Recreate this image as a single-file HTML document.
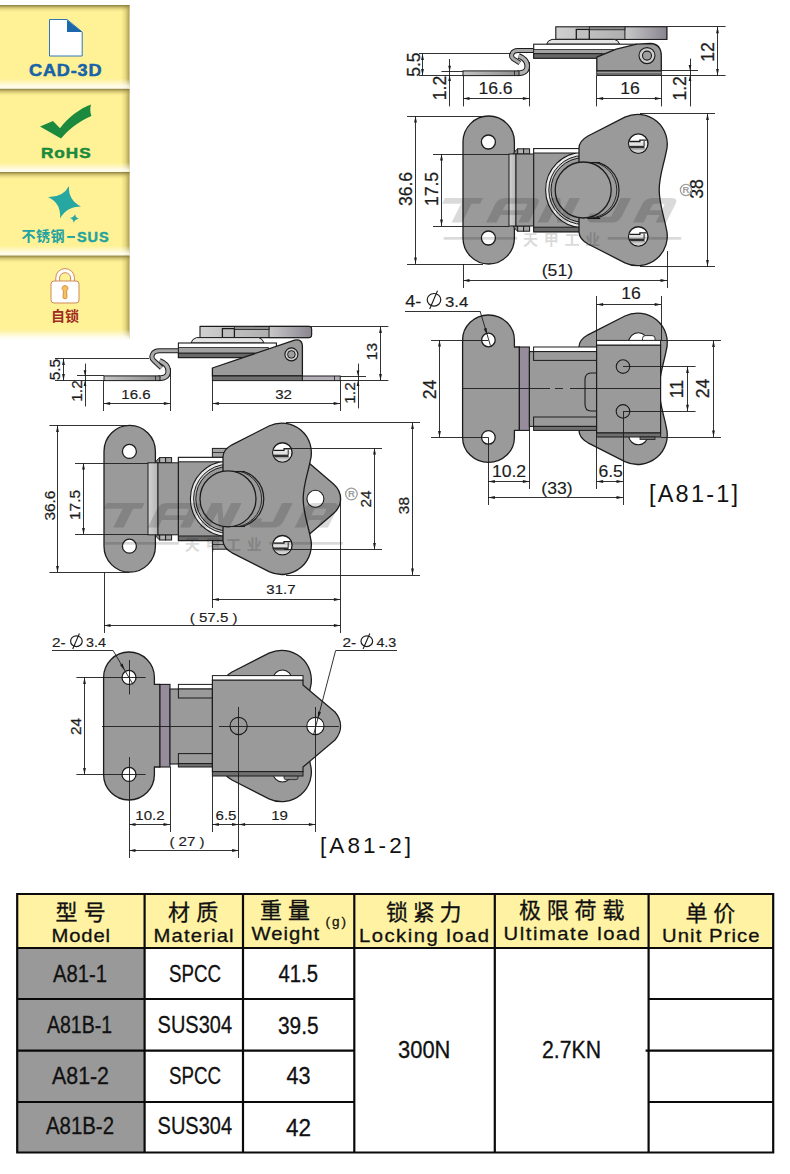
<!DOCTYPE html>
<html><head><meta charset="utf-8"><title>A81</title>
<style>html,body{margin:0;padding:0;background:#fff}svg{display:block}text{font-family:"Liberation Sans",sans-serif}</style>
</head><body>
<svg width="790" height="1174" viewBox="0 0 790 1174" font-family="Liberation Sans, sans-serif">
<rect width="790" height="1174" fill="#fff"/>
<defs>
<linearGradient id="bt" x1="0" y1="0" x2="0" y2="1"><stop offset="0" stop-color="#7a7034" stop-opacity=".9"/><stop offset=".3" stop-color="#9c8f48" stop-opacity=".6"/><stop offset=".65" stop-color="#b8a858" stop-opacity=".25"/><stop offset="1" stop-color="#c8b860" stop-opacity="0"/></linearGradient>
<linearGradient id="br" x1="0" y1="0" x2="1" y2="0"><stop offset="0" stop-color="#b8a850" stop-opacity="0"/><stop offset=".5" stop-color="#b0a050" stop-opacity=".3"/><stop offset="1" stop-color="#8e8240" stop-opacity=".8"/></linearGradient>
<linearGradient id="bb" x1="0" y1="0" x2="0" y2="1"><stop offset="0" stop-color="#fff" stop-opacity="0"/><stop offset=".6" stop-color="#fff" stop-opacity=".55"/><stop offset="1" stop-color="#fff" stop-opacity=".97"/></linearGradient>
<linearGradient id="gl" x1="0" y1="0" x2="1" y2="0"><stop offset="0" stop-color="#d4d4d4"/><stop offset="1" stop-color="#b4b4b4"/></linearGradient>
<linearGradient id="gh" x1="0" y1="0" x2="1" y2="0"><stop offset="0" stop-color="#d0d0d0"/><stop offset="1" stop-color="#9a9a9a"/></linearGradient>
<linearGradient id="gh2" x1="0" y1="0" x2="1" y2="0"><stop offset="0" stop-color="#c8c8c8"/><stop offset="1" stop-color="#8a8590"/></linearGradient>
<linearGradient id="gp" x1="0" y1="0" x2="1" y2="0"><stop offset="0" stop-color="#c4c4c4"/><stop offset="1" stop-color="#8e8e8e"/></linearGradient>
</defs>
<rect x="0" y="5" width="129.5" height="82.6" fill="#fff196"/>
<rect x="121.0" y="5" width="8.5" height="82.6" fill="url(#br)"/>
<rect x="0" y="78.6" width="129.5" height="9" fill="url(#bb)"/>
<rect x="0" y="5" width="129.5" height="7" fill="url(#bt)"/>
<rect x="0" y="88.8" width="129.5" height="82.6" fill="#fff196"/>
<rect x="121.0" y="88.8" width="8.5" height="82.6" fill="url(#br)"/>
<rect x="0" y="162.39999999999998" width="129.5" height="9" fill="url(#bb)"/>
<rect x="0" y="88.8" width="129.5" height="7" fill="url(#bt)"/>
<rect x="0" y="172" width="129.5" height="82.6" fill="#fff196"/>
<rect x="121.0" y="172" width="8.5" height="82.6" fill="url(#br)"/>
<rect x="0" y="245.6" width="129.5" height="9" fill="url(#bb)"/>
<rect x="0" y="172" width="129.5" height="7" fill="url(#bt)"/>
<rect x="0" y="255.6" width="129.5" height="82.6" fill="#fff196"/>
<rect x="121.0" y="255.6" width="8.5" height="82.6" fill="url(#br)"/>
<rect x="0" y="329.2" width="129.5" height="9" fill="url(#bb)"/>
<rect x="0" y="255.6" width="129.5" height="7" fill="url(#bt)"/>
<path d="M49.5 19.5H67L82.2 32V56H49.5Z" fill="#fff" stroke="#2f78b8" stroke-width="1"/>
<path d="M67 20L82.2 32H67Z" fill="#1b68ac"/>
<text transform="translate(29 76) scale(1.13 1)" font-size="16" font-weight="bold" fill="#1763a8" stroke="#1763a8" stroke-width=".5" textLength="64.2" lengthAdjust="spacing">CAD-3D</text>
<path d="M40 126.4L53 121L60 128.2C68 117 80 108.5 91 104.4C90 108 90 112 91.4 116C78 122 68 130 61 138.6Z" fill="#1b8a3e"/>
<text transform="translate(41 158.2) scale(1.13 1)" font-size="15.2" font-weight="bold" fill="#1b8a3e" stroke="#1b8a3e" stroke-width=".5" textLength="43.9" lengthAdjust="spacing">RoHS</text>
<path d="M69 186Q68 200 81 206.4Q66.5 206.5 60 218.4Q61.5 203.5 48 197Q63 197.5 69 186Z" fill="#27a7a1"/>
<path d="M75.2 214Q75.2 217.6 78.9 218.8Q75 219.3 73.6 222.8Q73.6 219.2 69.9 218Q73.8 217.5 75.2 214Z" fill="#27a7a1"/>
<text x="21.5" y="241.3" font-size="14" font-weight="bold" fill="#22a39f" textLength="43" lengthAdjust="spacing" style="font-family:'Liberation Sans','Noto Sans CJK SC',sans-serif">不锈钢</text>
<rect x="67.2" y="236" width="7.8" height="1.9" fill="#22a39f"/>
<text x="77" y="241.8" font-size="14.5" font-weight="bold" fill="#22a39f" stroke="#22a39f" stroke-width=".4" textLength="31.6" lengthAdjust="spacing">SUS</text>
<path d="M55.8 282V277.6A9.3 9 0 0 1 74.4 277.6V282" fill="#fff" stroke="#cf8a5a" stroke-width="1"/>
<path d="M59.6 282V278A5.5 5.3 0 0 1 70.6 278V282" fill="#fff196" stroke="#cf8a5a" stroke-width="1"/>
<rect x="51" y="281" width="28" height="22" rx="3" fill="#fff" stroke="#cf8a5a" stroke-width="1"/>
<path d="M65 285.6A2.8 2.8 0 0 1 66.6 290.8L67 297.2A2 1.6 0 0 1 63 297.2L63.4 290.8A2.8 2.8 0 0 1 65 285.6Z" fill="#f6c15a" stroke="#cc7c3c" stroke-width=".8"/>
<text x="51" y="320.6" font-size="14" font-weight="bold" fill="#a02c22" textLength="28" lengthAdjust="spacing" style="font-family:'Liberation Sans','Noto Sans CJK SC',sans-serif">自锁</text>
<rect x="17.2" y="894" width="756.0" height="54" fill="#fff3a3"/>
<rect x="17.2" y="948" width="127.39999999999999" height="204.5" fill="#999999"/>
<path d="M17.2 894H773.2V1152.5H17.2ZM144.6 894V1152.5M243 894V1152.5M354.3 894V1152.5M494.8 894V1152.5M648.6 894V1152.5M17.2 948H773.2M17.2 999H354.3M648.6 999H773.2M17.2 1050.6H354.3M648.6 1050.6H773.2M17.2 1102H354.3M648.6 1102H773.2M645.6 1050.6H648.6" fill="none" stroke="#0a0a0a" stroke-width="2.2"/>
<text x="55.5" y="919.5" font-size="22" fill="#111" stroke="#111" stroke-width="0.3" letter-spacing="6.2" style="font-family:'Liberation Sans','Noto Sans CJK SC',sans-serif">型号</text>
<text x="168" y="919.5" font-size="22" fill="#111" stroke="#111" stroke-width="0.3" letter-spacing="6.2" style="font-family:'Liberation Sans','Noto Sans CJK SC',sans-serif">材质</text>
<text x="260" y="917.5" font-size="22" fill="#111" stroke="#111" stroke-width="0.3" letter-spacing="6" style="font-family:'Liberation Sans','Noto Sans CJK SC',sans-serif">重量</text>
<text x="386" y="919.5" font-size="22" fill="#111" stroke="#111" stroke-width="0.3" letter-spacing="4.7" style="font-family:'Liberation Sans','Noto Sans CJK SC',sans-serif">锁紧力</text>
<text x="519" y="918" font-size="22" fill="#111" stroke="#111" stroke-width="0.3" letter-spacing="5.8" style="font-family:'Liberation Sans','Noto Sans CJK SC',sans-serif">极限荷载</text>
<text x="685.5" y="920.5" font-size="22" fill="#111" stroke="#111" stroke-width="0.3" letter-spacing="5.8" style="font-family:'Liberation Sans','Noto Sans CJK SC',sans-serif">单价</text>
<text transform="translate(51.6 942.4) scale(1.1 1)" font-size="18.4" fill="#111" stroke="#111" stroke-width="0.3" font-weight="normal" textLength="53.1" lengthAdjust="spacing">Model</text>
<text transform="translate(153.6 942.4) scale(1.1 1)" font-size="18.4" fill="#111" stroke="#111" stroke-width="0.3" font-weight="normal" textLength="72.7" lengthAdjust="spacing">Material</text>
<text transform="translate(251.6 940) scale(1.1 1)" font-size="18.4" fill="#111" stroke="#111" stroke-width="0.3" font-weight="normal" textLength="61.3" lengthAdjust="spacing">Weight</text>
<text transform="translate(325.6 926.4) scale(1.0 1)" font-size="13.5" fill="#111" stroke="#111" stroke-width="0.3" font-weight="normal" textLength="20.4" lengthAdjust="spacing">(g)</text>
<text transform="translate(359 942) scale(1.1 1)" font-size="18.4" fill="#111" stroke="#111" stroke-width="0.3" font-weight="normal" textLength="118.2" lengthAdjust="spacing">Locking load</text>
<text transform="translate(503.6 940.4) scale(1.1 1)" font-size="18.4" fill="#111" stroke="#111" stroke-width="0.3" font-weight="normal" textLength="124.0" lengthAdjust="spacing">Ultimate load</text>
<text transform="translate(662 942.4) scale(1.1 1)" font-size="18.4" fill="#111" stroke="#111" stroke-width="0.3" font-weight="normal" textLength="88.7" lengthAdjust="spacing">Unit Price</text>
<text transform="translate(53 982) scale(1.0 1)" font-size="23.2" fill="#111" stroke="#111" stroke-width="0.3" font-weight="normal" textLength="54.0" lengthAdjust="spacingAndGlyphs">A81-1</text>
<text transform="translate(47 1033) scale(1.0 1)" font-size="23.2" fill="#111" stroke="#111" stroke-width="0.3" font-weight="normal" textLength="65.0" lengthAdjust="spacingAndGlyphs">A81B-1</text>
<text transform="translate(52 1083.6) scale(1.0 1)" font-size="23.2" fill="#111" stroke="#111" stroke-width="0.3" font-weight="normal" textLength="57.0" lengthAdjust="spacingAndGlyphs">A81-2</text>
<text transform="translate(46 1134.4) scale(1.0 1)" font-size="23.2" fill="#111" stroke="#111" stroke-width="0.3" font-weight="normal" textLength="68.0" lengthAdjust="spacingAndGlyphs">A81B-2</text>
<text transform="translate(169 981.8) scale(1.0 1)" font-size="23.2" fill="#111" stroke="#111" stroke-width="0.3" font-weight="normal" textLength="52.0" lengthAdjust="spacingAndGlyphs">SPCC</text>
<text transform="translate(157.6 1032.6) scale(1.0 1)" font-size="23.2" fill="#111" stroke="#111" stroke-width="0.3" font-weight="normal" textLength="74.4" lengthAdjust="spacingAndGlyphs">SUS304</text>
<text transform="translate(169 1083.6) scale(1.0 1)" font-size="23.2" fill="#111" stroke="#111" stroke-width="0.3" font-weight="normal" textLength="52.0" lengthAdjust="spacingAndGlyphs">SPCC</text>
<text transform="translate(157.6 1134.4) scale(1.0 1)" font-size="23.2" fill="#111" stroke="#111" stroke-width="0.3" font-weight="normal" textLength="74.4" lengthAdjust="spacingAndGlyphs">SUS304</text>
<text transform="translate(278.6 982) scale(1.0 1)" font-size="23.2" fill="#111" stroke="#111" stroke-width="0.3" font-weight="normal" textLength="39.4" lengthAdjust="spacingAndGlyphs">41.5</text>
<text transform="translate(278 1033.6) scale(1.0 1)" font-size="23.2" fill="#111" stroke="#111" stroke-width="0.3" font-weight="normal" textLength="40.6" lengthAdjust="spacingAndGlyphs">39.5</text>
<text transform="translate(286.4 1084.4) scale(1.0 1)" font-size="23.2" fill="#111" stroke="#111" stroke-width="0.3" font-weight="normal" textLength="24.0" lengthAdjust="spacingAndGlyphs">43</text>
<text transform="translate(286 1136) scale(1.0 1)" font-size="23.2" fill="#111" stroke="#111" stroke-width="0.3" font-weight="normal" textLength="25.0" lengthAdjust="spacingAndGlyphs">42</text>
<text transform="translate(398 1058.4) scale(1.0 1)" font-size="23.2" fill="#111" stroke="#111" stroke-width="0.3" font-weight="normal" textLength="52.4" lengthAdjust="spacingAndGlyphs">300N</text>
<text transform="translate(542 1058.4) scale(1.0 1)" font-size="23.2" fill="#111" stroke="#111" stroke-width="0.3" font-weight="normal" textLength="59.0" lengthAdjust="spacingAndGlyphs">2.7KN</text>
<g id="g1side">
<path d="M517 73.3C525.2 73.3 527.6 70.2 527.2 65.2C526.8 60.6 524.4 58 518.6 55.8" fill="none" stroke="#1c1c1c" stroke-width="5.6" stroke-linecap="butt"/>
<path d="M517 73.3C525.2 73.3 527.6 70.2 527.2 65.2C526.8 60.6 524.4 58 518.6 55.8" fill="none" stroke="#b0b0b0" stroke-width="3.5" stroke-linecap="butt"/>
<rect x="463.0" y="70.9" width="56.0" height="4.7" rx="0" fill="url(#gp)" stroke="#1c1c1c" stroke-width="1.0"/>
<path d="M514.5 70.9L514.5 75.6" stroke="#1c1c1c" stroke-width="0.8" fill="none" />
<path d="M534 50.6H518C511.6 50.6 510 56.2 513.2 58.8L519.8 63" fill="none" stroke="#1c1c1c" stroke-width="5.0" stroke-linecap="butt"/>
<path d="M534 50.6H518C511.6 50.6 510 56.2 513.2 58.8L519.8 63" fill="none" stroke="#a8a8a8" stroke-width="3.0" stroke-linecap="butt"/>
<rect x="555.8" y="26.8" width="111.0" height="12.6" rx="0" fill="url(#gh)" stroke="#1c1c1c" stroke-width="1.1"/>
<rect x="624.9" y="26.8" width="41.9" height="12.6" rx="0" fill="url(#gh2)" stroke="#1c1c1c" stroke-width="1.0"/>
<rect x="576.3" y="29.4" width="13.0" height="10.0" rx="0" fill="#c0c0c0" stroke="#1c1c1c" stroke-width="1.3"/>
<rect x="589.3" y="26.8" width="35.6" height="3.0" rx="0" fill="#8e8e8e" stroke="#1c1c1c" stroke-width="0.8"/>
<path d="M546.7 44.2Q547.6 40.2 552 39.4H614.4Q618.6 40.2 619.6 44.2Z" fill="#e4e4e4" stroke="#1c1c1c" stroke-width="1.0" stroke-linejoin="round" />
<rect x="533.7" y="44.2" width="103.0" height="14.0" rx="0" fill="#fff" stroke="#1c1c1c" stroke-width="1.1"/>
<rect x="533.7" y="49.6" width="80.0" height="4.1" rx="0" fill="#a2a2a2" stroke="#1c1c1c" stroke-width="0.8"/>
<rect x="533.7" y="53.7" width="68.0" height="4.5" rx="0" fill="#686868" stroke="#1c1c1c" stroke-width="1.0"/>
<path d="M596.8 70.8V57.2L616.2 49.2L636.7 44.2L650.4 43.5Q661.3 44 661.3 56V70.8Z" fill="#9a9a9a" stroke="#1c1c1c" stroke-width="1.3" stroke-linejoin="round" />
<circle cx="647.0" cy="55.6" r="8.0" fill="#cdcdcd" stroke="#1c1c1c" stroke-width="1.1"/>
<circle cx="647.0" cy="55.6" r="4.5" fill="#9e9e9e" stroke="#1c1c1c" stroke-width="1.1"/>
<rect x="596.8" y="70.8" width="64.5" height="4.6" rx="0" fill="#707070" stroke="#1c1c1c" stroke-width="1.0"/>
<path d="M597.0 72.5L661.0 72.5" stroke="#b8b8b8" stroke-width="0.6" fill="none" />
</g>
<path d="M419.0 53.5L511.0 53.5" stroke="#1c1c1c" stroke-width="0.9" fill="none" />
<path d="M419.0 75.5L463.0 75.5" stroke="#1c1c1c" stroke-width="0.9" fill="none" />
<path d="M422.5 53.6L422.5 75.6" stroke="#1c1c1c" stroke-width="0.9" fill="none" />
<path d="M422.5 53.6L423.9 60.1L421.1 60.1Z" fill="#1c1c1c"/>
<path d="M422.5 75.6L421.1 69.1L423.9 69.1Z" fill="#1c1c1c"/>
<text transform="translate(420.0 64.6) rotate(-90) scale(1.0 1.08)" font-size="17.6" text-anchor="middle" fill="#1c1c1c" stroke="#1c1c1c" stroke-width=".25">5.5</text>
<path d="M441.4 71.5L463.0 71.5" stroke="#1c1c1c" stroke-width="0.9" fill="none" />
<path d="M449.5 59.0L449.5 106.4" stroke="#1c1c1c" stroke-width="0.9" fill="none" />
<path d="M449.6 71.2L448.2 65.7L451.0 65.7Z" fill="#1c1c1c"/>
<path d="M449.6 75.6L451.0 81.1L448.2 81.1Z" fill="#1c1c1c"/>
<text transform="translate(446.0 88.0) rotate(-90) scale(1.0 1.08)" font-size="17.6" text-anchor="middle" fill="#1c1c1c" stroke="#1c1c1c" stroke-width=".25">1.2</text>
<path d="M463.5 76.0L463.5 106.4" stroke="#1c1c1c" stroke-width="0.9" fill="none" />
<path d="M529.5 62.0L529.5 106.4" stroke="#1c1c1c" stroke-width="0.9" fill="none" />
<path d="M463.0 98.5L529.4 98.5" stroke="#1c1c1c" stroke-width="0.9" fill="none" />
<path d="M463.0 98.5L469.5 97.1L469.5 99.9Z" fill="#1c1c1c"/>
<path d="M529.4 98.5L522.9 99.9L522.9 97.1Z" fill="#1c1c1c"/>
<text transform="translate(495.5 94.0) scale(1.1 1)" font-size="16" text-anchor="middle" fill="#1c1c1c" stroke="#1c1c1c" stroke-width=".15" font-weight="normal" letter-spacing="0">16.6</text>
<path d="M596.5 75.6L596.5 106.4" stroke="#1c1c1c" stroke-width="0.9" fill="none" />
<path d="M661.5 75.6L661.5 106.4" stroke="#1c1c1c" stroke-width="0.9" fill="none" />
<path d="M596.6 98.5L661.4 98.5" stroke="#1c1c1c" stroke-width="0.9" fill="none" />
<path d="M596.6 98.5L603.1 97.1L603.1 99.9Z" fill="#1c1c1c"/>
<path d="M661.4 98.5L654.9 99.9L654.9 97.1Z" fill="#1c1c1c"/>
<text transform="translate(630.0 93.8) scale(1.1 1)" font-size="16" text-anchor="middle" fill="#1c1c1c" stroke="#1c1c1c" stroke-width=".15" font-weight="normal" letter-spacing="0">16</text>
<path d="M661.3 70.5L698.0 70.5" stroke="#1c1c1c" stroke-width="0.9" fill="none" />
<path d="M661.3 75.5L725.6 75.5" stroke="#1c1c1c" stroke-width="0.9" fill="none" />
<path d="M690.5 58.6L690.5 106.4" stroke="#1c1c1c" stroke-width="0.9" fill="none" />
<path d="M690.0 70.6L688.6 65.1L691.4 65.1Z" fill="#1c1c1c"/>
<path d="M690.0 75.5L691.4 81.0L688.6 81.0Z" fill="#1c1c1c"/>
<text transform="translate(686.0 88.4) rotate(-90) scale(1.0 1.08)" font-size="17.6" text-anchor="middle" fill="#1c1c1c" stroke="#1c1c1c" stroke-width=".25">1.2</text>
<path d="M667.0 26.5L725.6 26.5" stroke="#1c1c1c" stroke-width="0.9" fill="none" />
<path d="M717.5 26.8L717.5 75.5" stroke="#1c1c1c" stroke-width="0.9" fill="none" />
<path d="M717.5 26.8L718.9 33.3L716.1 33.3Z" fill="#1c1c1c"/>
<path d="M717.5 75.5L716.1 69.0L718.9 69.0Z" fill="#1c1c1c"/>
<text transform="translate(714.0 52.0) rotate(-90) scale(1.0 1.08)" font-size="17.6" text-anchor="middle" fill="#1c1c1c" stroke="#1c1c1c" stroke-width=".25">12</text>
<g id="g1front">
<path d="M463 142A25.7 26 0 0 1 514.4 142V238A25.7 26 0 0 1 463 238Z" fill="#9a9a9a" stroke="#1c1c1c" stroke-width="1.3" stroke-linejoin="round" />
<circle cx="488.4" cy="142.0" r="7.0" fill="#fff" stroke="#1c1c1c" stroke-width="1.3"/>
<circle cx="488.4" cy="238.0" r="7.0" fill="#fff" stroke="#1c1c1c" stroke-width="1.3"/>
<rect x="517.6" y="148.8" width="6.0" height="5.2" rx="0" fill="#b4b4b4" stroke="#1c1c1c" stroke-width="1.0"/>
<rect x="523.6" y="148.8" width="6.0" height="5.2" rx="0" fill="#a4a4a4" stroke="#1c1c1c" stroke-width="1.0"/>
<path d="M517.6 154.0l-4.6 0Q514.6 151.20000000000002 517.6 148.8Z" fill="#8a8a8a" stroke="#1c1c1c" stroke-width="0.9" stroke-linejoin="round" />
<rect x="517.6" y="226.0" width="6.0" height="5.2" rx="0" fill="#b4b4b4" stroke="#1c1c1c" stroke-width="1.0"/>
<rect x="523.6" y="226.0" width="6.0" height="5.2" rx="0" fill="#a4a4a4" stroke="#1c1c1c" stroke-width="1.0"/>
<path d="M517.6 226l-4.6 0Q514.6 228.8 517.6 231.2Z" fill="#8a8a8a" stroke="#1c1c1c" stroke-width="0.9" stroke-linejoin="round" />
<rect x="509.0" y="154.0" width="7.0" height="72.0" rx="0" fill="url(#gl)" stroke="#1c1c1c" stroke-width="1.0"/>
<rect x="516.0" y="154.0" width="17.7" height="72.0" rx="0" fill="#9a9a9a" stroke="#1c1c1c" stroke-width="1.0"/>
<rect x="533.7" y="148.6" width="48.3" height="83.2" rx="0" fill="#9a9a9a" stroke="#1c1c1c" stroke-width="1.1"/>
<rect x="533.7" y="148.6" width="48.3" height="4.4" rx="0" fill="#fff" stroke="#1c1c1c" stroke-width="1.0"/>
<rect x="533.7" y="227.2" width="48.3" height="4.6" rx="0" fill="#6a6a6a" stroke="#1c1c1c" stroke-width="1.0"/>
<clipPath id="cp463"><rect x="534.3000000000001" y="153.0" width="47.299999999999955" height="74.20000000000002"/></clipPath>
<g clip-path="url(#cp463)">
<circle cx="583.2" cy="190.0" r="37.6" fill="#e9e9e9" stroke="#1c1c1c" stroke-width="1.1"/>
<circle cx="583.2" cy="190.0" r="34.4" fill="#c2c2c2" stroke="#1c1c1c" stroke-width="1.0"/>
<circle cx="583.2" cy="190.0" r="32.2" fill="#9a9a9a" stroke="#1c1c1c" stroke-width="1.0"/>
</g>
<path d="M579.0 153.0L579.0 148.0Q579.2 141.0 588.0 136.0L624.9 117.2A29.6 29.6 0 0 1 666.2 151.8C664.0 163.8 659.2 176.0 659.2 190.0C659.2 204.0 664.0 216.2 666.2 228.2A29.6 29.6 0 0 1 624.9 262.8L588.0 244.0Q579.2 239.0 579.0 232.0L579.0 227.0Z" fill="#9a9a9a" stroke="#1c1c1c" stroke-width="1.3" stroke-linejoin="round" />
<circle cx="638.3" cy="143.6" r="9.7" fill="#fff" stroke="#1c1c1c" stroke-width="1.4"/>
<clipPath id="rh638_143"><circle cx="638.3" cy="143.6" r="9.1"/></clipPath>
<g clip-path="url(#rh638_143)">
<rect x="628.5999999999999" y="148.0" width="19.4" height="9.7" fill="#d2d2d2"/>
<rect x="628.5999999999999" y="142.0" width="15.1" height="3.8" fill="#e2e2e2"/>
<rect x="644.9" y="142.2" width="1.8" height="3.4" fill="#e2e2e2"/>
<path d="M628.5999999999999 141.5H639.9V140.1H646.8" fill="none" stroke="#1c1c1c" stroke-width="1.3"/>
<path d="M644.1 141.0V146.0" fill="none" stroke="#1c1c1c" stroke-width="1.0"/>
<rect x="628.5999999999999" y="145.8" width="15.9" height="2.4" fill="#303030"/>
<path d="M628.5999999999999 149.0H648.0" fill="none" stroke="#8a8a8a" stroke-width="0.9"/>
</g>
<circle cx="638.3" cy="236.4" r="9.7" fill="#fff" stroke="#1c1c1c" stroke-width="1.4"/>
<clipPath id="rh638_236"><circle cx="638.3" cy="236.4" r="9.1"/></clipPath>
<g clip-path="url(#rh638_236)">
<rect x="628.5999999999999" y="240.8" width="19.4" height="9.7" fill="#d2d2d2"/>
<rect x="628.5999999999999" y="234.8" width="15.1" height="3.8" fill="#e2e2e2"/>
<rect x="644.9" y="235.0" width="1.8" height="3.4" fill="#e2e2e2"/>
<path d="M628.5999999999999 234.3H639.9V232.9H646.8" fill="none" stroke="#1c1c1c" stroke-width="1.3"/>
<path d="M644.1 233.8V238.8" fill="none" stroke="#1c1c1c" stroke-width="1.0"/>
<rect x="628.5999999999999" y="238.6" width="15.9" height="2.4" fill="#303030"/>
<path d="M628.5999999999999 241.8H648.0" fill="none" stroke="#8a8a8a" stroke-width="0.9"/>
</g>
<clipPath id="kc583"><rect x="583.2" y="162.4" width="60" height="55.6"/></clipPath>
<g clip-path="url(#kc583)">
<circle cx="590.6" cy="190.0" r="28.4" fill="#9a9a9a" stroke="#1c1c1c" stroke-width="1.2"/>
<circle cx="588.6" cy="190.0" r="28.2" fill="#9a9a9a" stroke="#1c1c1c" stroke-width="0.9"/>
</g>
<path d="M587.2 162.5L600.2 162.5" stroke="#1c1c1c" stroke-width="1.1" fill="none" />
<path d="M587.2 218.5L600.2 218.5" stroke="#1c1c1c" stroke-width="1.1" fill="none" />
<circle cx="583.2" cy="190.0" r="28.0" fill="#9c9c9c" stroke="#1c1c1c" stroke-width="1.3"/>
</g>
<path d="M407.0 116.5L483.0 116.5" stroke="#1c1c1c" stroke-width="0.9" fill="none" />
<path d="M407.0 264.5L483.0 264.5" stroke="#1c1c1c" stroke-width="0.9" fill="none" />
<path d="M415.5 116.0L415.5 264.0" stroke="#1c1c1c" stroke-width="0.9" fill="none" />
<path d="M415.5 116.0L416.9 122.5L414.1 122.5Z" fill="#1c1c1c"/>
<path d="M415.5 264.0L414.1 257.5L416.9 257.5Z" fill="#1c1c1c"/>
<text transform="translate(412.0 189.0) rotate(-90) scale(1.0 1.08)" font-size="17.6" text-anchor="middle" fill="#1c1c1c" stroke="#1c1c1c" stroke-width=".25">36.6</text>
<path d="M433.0 154.5L509.0 154.5" stroke="#1c1c1c" stroke-width="0.9" fill="none" />
<path d="M433.0 226.5L509.0 226.5" stroke="#1c1c1c" stroke-width="0.9" fill="none" />
<path d="M441.5 154.0L441.5 226.0" stroke="#1c1c1c" stroke-width="0.9" fill="none" />
<path d="M441.5 154.0L442.9 160.5L440.1 160.5Z" fill="#1c1c1c"/>
<path d="M441.5 226.0L440.1 219.5L442.9 219.5Z" fill="#1c1c1c"/>
<text transform="translate(438.0 189.0) rotate(-90) scale(1.0 1.08)" font-size="17.6" text-anchor="middle" fill="#1c1c1c" stroke="#1c1c1c" stroke-width=".25">17.5</text>
<path d="M640.0 113.5L715.0 113.5" stroke="#1c1c1c" stroke-width="0.9" fill="none" />
<path d="M640.0 266.5L715.0 266.5" stroke="#1c1c1c" stroke-width="0.9" fill="none" />
<path d="M707.5 113.4L707.5 266.5" stroke="#1c1c1c" stroke-width="0.9" fill="none" />
<path d="M707.5 113.4L708.9 119.9L706.1 119.9Z" fill="#1c1c1c"/>
<path d="M707.5 266.5L706.1 260.0L708.9 260.0Z" fill="#1c1c1c"/>
<text transform="translate(703.0 189.0) rotate(-90) scale(1.0 1.08)" font-size="17.6" text-anchor="middle" fill="#1c1c1c" stroke="#1c1c1c" stroke-width=".25">38</text>
<circle cx="686" cy="190" r="5.6" fill="none" stroke="#9d9d9d" stroke-width="1.3"/>
<text x="686" y="193.4" font-size="9.5" font-weight="bold" text-anchor="middle" fill="#9d9d9d">R</text>
<path d="M463.5 264.0L463.5 288.0" stroke="#1c1c1c" stroke-width="0.9" fill="none" />
<path d="M667.5 251.0L667.5 288.0" stroke="#1c1c1c" stroke-width="0.9" fill="none" />
<path d="M463.0 280.5L667.0 280.5" stroke="#1c1c1c" stroke-width="0.9" fill="none" />
<path d="M463.0 280.5L469.5 279.1L469.5 281.9Z" fill="#1c1c1c"/>
<path d="M667.0 280.5L660.5 281.9L660.5 279.1Z" fill="#1c1c1c"/>
<text transform="translate(557.4 276.0) scale(1.1 1)" font-size="16" text-anchor="middle" fill="#1c1c1c" stroke="#1c1c1c" stroke-width=".15" font-weight="normal" letter-spacing="0">(51)</text>
<g id="g1bot">
<path d="M579.0 351.8L579.0 346.8Q579.2 339.8 588.0 334.8L624.9 316.0A29.6 29.6 0 0 1 666.2 350.6C664.0 362.6 659.2 374.8 659.2 388.8C659.2 402.8 664.0 415.0 666.2 427.0A29.6 29.6 0 0 1 624.9 461.6L588.0 442.8Q579.2 437.8 579.0 430.8L579.0 425.8Z" fill="#9a9a9a" stroke="#1c1c1c" stroke-width="1.3" stroke-linejoin="round" />
<circle cx="638.3" cy="342.4" r="9.6" fill="#fff" stroke="#1c1c1c" stroke-width="1.1"/>
<circle cx="638.3" cy="435.2" r="9.6" fill="#fff" stroke="#1c1c1c" stroke-width="1.1"/>
<path d="M642.5 340.4V338.4Q642.5 335.6 645.5 335.6H652Q655 335.6 655 338.4V340.4" fill="#fff" stroke="#1c1c1c" stroke-width="0.9" stroke-linejoin="round" />
<path d="M462.6 340A25.9 25 0 0 1 514.4 340V347H519.4V430.4H514.4V437.4A25.9 25 0 0 1 462.6 437.4Z" fill="#9a9a9a" stroke="#1c1c1c" stroke-width="1.3" stroke-linejoin="round" />
<circle cx="488.4" cy="340.0" r="6.8" fill="#fff" stroke="#1c1c1c" stroke-width="1.3"/>
<circle cx="488.4" cy="437.4" r="6.8" fill="#fff" stroke="#1c1c1c" stroke-width="1.3"/>
<rect x="519.4" y="347.0" width="10.0" height="83.4" rx="0" fill="#978c9b" stroke="#1c1c1c" stroke-width="1.1"/>
<rect x="529.4" y="351.6" width="67.2" height="74.8" rx="0" fill="#9a9a9a" stroke="#1c1c1c" stroke-width="1.1"/>
<rect x="533.6" y="347.0" width="63.0" height="4.6" rx="0" fill="#fff" stroke="#1c1c1c" stroke-width="1.0"/>
<rect x="533.6" y="351.6" width="63.0" height="8.8" rx="0" fill="#9a9a9a" stroke="#1c1c1c" stroke-width="1.0"/>
<rect x="533.6" y="417.0" width="63.0" height="9.4" rx="0" fill="#9a9a9a" stroke="#1c1c1c" stroke-width="1.0"/>
<rect x="533.6" y="426.4" width="63.0" height="4.0" rx="0" fill="#707070" stroke="#1c1c1c" stroke-width="1.0"/>
<path d="M596.6 373H591Q585 373 585 380V404Q585 411 591 411H596.6" fill="none" stroke="#1c1c1c" stroke-width="1.1" stroke-linejoin="round" />
<rect x="596.6" y="345.0" width="64.0" height="88.0" rx="0" fill="#9a9a9a" stroke="#1c1c1c" stroke-width="1.2"/>
<rect x="596.6" y="340.4" width="64.0" height="4.6" rx="0" fill="#fff" stroke="#1c1c1c" stroke-width="1.0"/>
<rect x="596.6" y="433.0" width="64.0" height="4.0" rx="0" fill="#707070" stroke="#1c1c1c" stroke-width="1.0"/>
<rect x="640.0" y="437.0" width="15.0" height="2.4" rx="0" fill="#707070" stroke="#1c1c1c" stroke-width="0.8"/>
<circle cx="623.0" cy="366.6" r="6.8" fill="#9a9a9a" stroke="#1c1c1c" stroke-width="1.1"/>
<circle cx="623.0" cy="411.4" r="6.8" fill="#9a9a9a" stroke="#1c1c1c" stroke-width="1.1"/>
<path d="M463.0 388.5L550.0 388.5" stroke="#1c1c1c" stroke-width="0.9" fill="none" />
<path d="M555.0 388.5L563.0 388.5" stroke="#1c1c1c" stroke-width="0.9" fill="none" />
<path d="M570.0 388.5L660.6 388.5" stroke="#1c1c1c" stroke-width="0.9" fill="none" />
</g>
<text transform="translate(405.2 306.6) scale(1.12 1)" font-size="16.2" text-anchor="start" fill="#1c1c1c" stroke="#1c1c1c" stroke-width=".15" font-weight="normal" letter-spacing="0">4-</text>
<ellipse cx="434.0" cy="299.8" rx="6.8" ry="6.3" fill="none" stroke="#1c1c1c" stroke-width="1.2"/>
<path d="M429.7 309.0L437.5 290.8" stroke="#1c1c1c" stroke-width="1.1" fill="none"/>
<text transform="translate(445.0 306.6) scale(1.12 1)" font-size="15" text-anchor="start" fill="#1c1c1c" stroke="#1c1c1c" stroke-width=".15" font-weight="normal" letter-spacing="0">3.4</text>
<path d="M405.0 311.5L480.0 311.5" stroke="#1c1c1c" stroke-width="0.9" fill="none" />
<path d="M480.0 311.0L490.4 345.4" stroke="#1c1c1c" stroke-width="0.9" fill="none" />
<path d="M487.2 335.0L483.7 328.7L486.6 327.9Z" fill="#1c1c1c"/>
<path d="M431.0 340.5L488.4 340.5" stroke="#1c1c1c" stroke-width="0.9" fill="none" />
<path d="M431.0 437.5L488.4 437.5" stroke="#1c1c1c" stroke-width="0.9" fill="none" />
<path d="M439.5 340.0L439.5 437.4" stroke="#1c1c1c" stroke-width="0.9" fill="none" />
<path d="M439.5 340.0L440.9 346.5L438.1 346.5Z" fill="#1c1c1c"/>
<path d="M439.5 437.4L438.1 430.9L440.9 430.9Z" fill="#1c1c1c"/>
<text transform="translate(436.0 389.4) rotate(-90) scale(1.0 1.08)" font-size="17.6" text-anchor="middle" fill="#1c1c1c" stroke="#1c1c1c" stroke-width=".25">24</text>
<path d="M596.5 296.0L596.5 345.0" stroke="#1c1c1c" stroke-width="0.9" fill="none" />
<path d="M661.5 296.0L661.5 340.0" stroke="#1c1c1c" stroke-width="0.9" fill="none" />
<path d="M596.6 304.5L661.2 304.5" stroke="#1c1c1c" stroke-width="0.9" fill="none" />
<path d="M596.6 304.5L603.1 303.1L603.1 305.9Z" fill="#1c1c1c"/>
<path d="M661.2 304.5L654.7 305.9L654.7 303.1Z" fill="#1c1c1c"/>
<text transform="translate(631.0 299.0) scale(1.1 1)" font-size="16" text-anchor="middle" fill="#1c1c1c" stroke="#1c1c1c" stroke-width=".15" font-weight="normal" letter-spacing="0">16</text>
<path d="M623.0 366.5L695.6 366.5" stroke="#1c1c1c" stroke-width="0.9" fill="none" />
<path d="M623.0 411.5L695.6 411.5" stroke="#1c1c1c" stroke-width="0.9" fill="none" />
<path d="M687.5 366.6L687.5 411.2" stroke="#1c1c1c" stroke-width="0.9" fill="none" />
<path d="M687.5 366.6L688.9 373.1L686.1 373.1Z" fill="#1c1c1c"/>
<path d="M687.5 411.2L686.1 404.7L688.9 404.7Z" fill="#1c1c1c"/>
<text transform="translate(683.0 389.0) rotate(-90) scale(1.0 1.08)" font-size="17.6" text-anchor="middle" fill="#1c1c1c" stroke="#1c1c1c" stroke-width=".25">11</text>
<path d="M661.0 340.5L721.0 340.5" stroke="#1c1c1c" stroke-width="0.9" fill="none" />
<path d="M661.0 437.5L721.0 437.5" stroke="#1c1c1c" stroke-width="0.9" fill="none" />
<path d="M713.5 340.6L713.5 437.0" stroke="#1c1c1c" stroke-width="0.9" fill="none" />
<path d="M713.5 340.6L714.9 347.1L712.1 347.1Z" fill="#1c1c1c"/>
<path d="M713.5 437.0L712.1 430.5L714.9 430.5Z" fill="#1c1c1c"/>
<text transform="translate(709.0 388.6) rotate(-90) scale(1.0 1.08)" font-size="17.6" text-anchor="middle" fill="#1c1c1c" stroke="#1c1c1c" stroke-width=".25">24</text>
<path d="M488.5 437.4L488.5 505.0" stroke="#1c1c1c" stroke-width="0.9" fill="none" />
<path d="M529.5 430.4L529.5 489.0" stroke="#1c1c1c" stroke-width="0.9" fill="none" />
<path d="M488.4 481.5L529.4 481.5" stroke="#1c1c1c" stroke-width="0.9" fill="none" />
<path d="M488.4 481.5L494.9 480.1L494.9 482.9Z" fill="#1c1c1c"/>
<path d="M529.4 481.5L522.9 482.9L522.9 480.1Z" fill="#1c1c1c"/>
<text transform="translate(509.0 477.0) scale(1.1 1)" font-size="16" text-anchor="middle" fill="#1c1c1c" stroke="#1c1c1c" stroke-width=".15" font-weight="normal" letter-spacing="0">10.2</text>
<path d="M596.5 437.0L596.5 489.0" stroke="#1c1c1c" stroke-width="0.9" fill="none" />
<path d="M623.5 411.4L623.5 505.0" stroke="#1c1c1c" stroke-width="0.9" fill="none" />
<path d="M596.6 481.5L623.0 481.5" stroke="#1c1c1c" stroke-width="0.9" fill="none" />
<path d="M596.6 481.5L603.1 480.1L603.1 482.9Z" fill="#1c1c1c"/>
<path d="M623.0 481.5L616.5 482.9L616.5 480.1Z" fill="#1c1c1c"/>
<text transform="translate(610.6 476.6) scale(1.1 1)" font-size="16" text-anchor="middle" fill="#1c1c1c" stroke="#1c1c1c" stroke-width=".15" font-weight="normal" letter-spacing="0">6.5</text>
<path d="M488.4 497.5L623.0 497.5" stroke="#1c1c1c" stroke-width="0.9" fill="none" />
<path d="M488.4 497.5L494.9 496.1L494.9 498.9Z" fill="#1c1c1c"/>
<path d="M623.0 497.5L616.5 498.9L616.5 496.1Z" fill="#1c1c1c"/>
<text transform="translate(557.0 493.6) scale(1.1 1)" font-size="16" text-anchor="middle" fill="#1c1c1c" stroke="#1c1c1c" stroke-width=".15" font-weight="normal" letter-spacing="0">(33)</text>
<text x="649" y="502" font-size="23.5" fill="#111" textLength="89" lengthAdjust="spacing">[A81-1]</text>
<g id="g2side">
<path d="M158 378.3C166.2 378.3 168.6 375.2 168.2 370.2C167.8 365.6 165.4 363 159.6 360.8" fill="none" stroke="#1c1c1c" stroke-width="5.6" stroke-linecap="butt"/>
<path d="M158 378.3C166.2 378.3 168.6 375.2 168.2 370.2C167.8 365.6 165.4 363 159.6 360.8" fill="none" stroke="#b0b0b0" stroke-width="3.5" stroke-linecap="butt"/>
<rect x="104.0" y="375.9" width="56.0" height="4.7" rx="0" fill="url(#gp)" stroke="#1c1c1c" stroke-width="1.0"/>
<path d="M155.5 375.9L155.5 380.6" stroke="#1c1c1c" stroke-width="0.8" fill="none" />
<path d="M179 350.8H159.5C152 350.8 150.2 357.4 153.6 360.4L161.6 367.8" fill="none" stroke="#1c1c1c" stroke-width="5.0" stroke-linecap="butt"/>
<path d="M179 350.8H159.5C152 350.8 150.2 357.4 153.6 360.4L161.6 367.8" fill="none" stroke="#a8a8a8" stroke-width="3.0" stroke-linecap="butt"/>
<path d="M200 326.4H309Q311.6 326.4 311.6 329V335Q311.6 337.6 309 337.6H200Z" fill="url(#gh)" stroke="#1c1c1c" stroke-width="1.1" stroke-linejoin="round" />
<path d="M269 326.4H309Q311.6 326.4 311.6 329V335Q311.6 337.6 309 337.6H269Z" fill="url(#gh2)" stroke="#1c1c1c" stroke-width="1.0" stroke-linejoin="round" />
<rect x="222.4" y="328.6" width="12.0" height="9.0" rx="0" fill="#c0c0c0" stroke="#1c1c1c" stroke-width="1.3"/>
<rect x="234.4" y="326.4" width="34.6" height="3.0" rx="0" fill="#8e8e8e" stroke="#1c1c1c" stroke-width="0.8"/>
<path d="M191 343Q192 338.8 196.5 337.6H258.6Q263 338.8 264 343Z" fill="#e4e4e4" stroke="#1c1c1c" stroke-width="1.0" stroke-linejoin="round" />
<rect x="178.4" y="343.0" width="98.0" height="14.6" rx="0" fill="#fff" stroke="#1c1c1c" stroke-width="1.1"/>
<rect x="178.4" y="347.6" width="90.0" height="5.6" rx="0" fill="#a2a2a2" stroke="#1c1c1c" stroke-width="0.8"/>
<rect x="178.4" y="353.2" width="76.0" height="4.4" rx="0" fill="#686868" stroke="#1c1c1c" stroke-width="1.0"/>
<path d="M212.4 376V368L294.6 340.2Q302.4 338.4 302.4 347V376Z" fill="#9a9a9a" stroke="#1c1c1c" stroke-width="1.3" stroke-linejoin="round" />
<circle cx="291.4" cy="354.4" r="6.5" fill="#cdcdcd" stroke="#1c1c1c" stroke-width="1.1"/>
<circle cx="291.4" cy="354.4" r="3.8" fill="#9e9e9e" stroke="#1c1c1c" stroke-width="1.0"/>
<rect x="212.4" y="376.0" width="90.0" height="4.6" rx="0" fill="#707070" stroke="#1c1c1c" stroke-width="1.0"/>
<rect x="302.4" y="376.0" width="37.8" height="4.6" rx="0" fill="#b4b0b8" stroke="#1c1c1c" stroke-width="1.0"/>
<path d="M334.5 376.0L334.5 380.6" stroke="#1c1c1c" stroke-width="0.8" fill="none" />
</g>
<path d="M55.0 358.5L149.0 358.5" stroke="#1c1c1c" stroke-width="0.9" fill="none" />
<path d="M55.0 380.5L104.0 380.5" stroke="#1c1c1c" stroke-width="0.9" fill="none" />
<path d="M63.5 358.6L63.5 380.6" stroke="#1c1c1c" stroke-width="0.9" fill="none" />
<path d="M63.5 358.6L64.9 365.1L62.1 365.1Z" fill="#1c1c1c"/>
<path d="M63.5 380.6L62.1 374.1L64.9 374.1Z" fill="#1c1c1c"/>
<text transform="translate(60.0 369.6) rotate(-90) scale(1.0 1.0)" font-size="15.4" text-anchor="middle" fill="#1c1c1c" stroke="#1c1c1c" stroke-width=".25">5.5</text>
<path d="M77.0 375.5L104.0 375.5" stroke="#1c1c1c" stroke-width="0.9" fill="none" />
<path d="M85.5 363.6L85.5 406.4" stroke="#1c1c1c" stroke-width="0.9" fill="none" />
<path d="M85.0 375.8L83.6 370.3L86.4 370.3Z" fill="#1c1c1c"/>
<path d="M85.0 380.6L86.4 386.1L83.6 386.1Z" fill="#1c1c1c"/>
<text transform="translate(82.0 391.0) rotate(-90) scale(1.0 1.0)" font-size="15.4" text-anchor="middle" fill="#1c1c1c" stroke="#1c1c1c" stroke-width=".25">1.2</text>
<path d="M103.5 381.0L103.5 411.0" stroke="#1c1c1c" stroke-width="0.9" fill="none" />
<path d="M170.5 368.0L170.5 411.0" stroke="#1c1c1c" stroke-width="0.9" fill="none" />
<path d="M103.6 403.5L170.4 403.5" stroke="#1c1c1c" stroke-width="0.9" fill="none" />
<path d="M103.6 403.5L110.1 402.1L110.1 404.9Z" fill="#1c1c1c"/>
<path d="M170.4 403.5L163.9 404.9L163.9 402.1Z" fill="#1c1c1c"/>
<text transform="translate(136.0 399.4) scale(1.1 1)" font-size="13.7" text-anchor="middle" fill="#1c1c1c" stroke="#1c1c1c" stroke-width=".15" font-weight="normal" letter-spacing="0">16.6</text>
<path d="M212.5 380.6L212.5 411.0" stroke="#1c1c1c" stroke-width="0.9" fill="none" />
<path d="M340.5 380.6L340.5 411.0" stroke="#1c1c1c" stroke-width="0.9" fill="none" />
<path d="M212.4 403.5L340.2 403.5" stroke="#1c1c1c" stroke-width="0.9" fill="none" />
<path d="M212.4 403.5L218.9 402.1L218.9 404.9Z" fill="#1c1c1c"/>
<path d="M340.2 403.5L333.7 404.9L333.7 402.1Z" fill="#1c1c1c"/>
<text transform="translate(283.6 399.2) scale(1.1 1)" font-size="13.7" text-anchor="middle" fill="#1c1c1c" stroke="#1c1c1c" stroke-width=".15" font-weight="normal" letter-spacing="0">32</text>
<path d="M340.2 376.5L366.0 376.5" stroke="#1c1c1c" stroke-width="0.9" fill="none" />
<path d="M340.2 380.5L388.4 380.5" stroke="#1c1c1c" stroke-width="0.9" fill="none" />
<path d="M358.5 363.6L358.5 408.4" stroke="#1c1c1c" stroke-width="0.9" fill="none" />
<path d="M358.0 376.0L356.6 370.5L359.4 370.5Z" fill="#1c1c1c"/>
<path d="M358.0 380.6L359.4 386.1L356.6 386.1Z" fill="#1c1c1c"/>
<text transform="translate(355.0 393.0) rotate(-90) scale(1.0 1.0)" font-size="15.4" text-anchor="middle" fill="#1c1c1c" stroke="#1c1c1c" stroke-width=".25">1.2</text>
<path d="M254.0 326.5L388.4 326.5" stroke="#1c1c1c" stroke-width="0.9" fill="none" />
<path d="M380.5 326.4L380.5 380.6" stroke="#1c1c1c" stroke-width="0.9" fill="none" />
<path d="M380.5 326.4L381.9 332.9L379.1 332.9Z" fill="#1c1c1c"/>
<path d="M380.5 380.6L379.1 374.1L381.9 374.1Z" fill="#1c1c1c"/>
<text transform="translate(377.4 351.6) rotate(-90) scale(1.0 1.0)" font-size="15.4" text-anchor="middle" fill="#1c1c1c" stroke="#1c1c1c" stroke-width=".25">13</text>
<g id="g2front">
<path d="M104 451.4A25.7 26 0 0 1 155.4 451.4V546.2A25.7 26 0 0 1 104 546.2Z" fill="#9a9a9a" stroke="#1c1c1c" stroke-width="1.3" stroke-linejoin="round" />
<circle cx="129.4" cy="451.4" r="7.0" fill="#fff" stroke="#1c1c1c" stroke-width="1.3"/>
<circle cx="129.4" cy="546.2" r="7.0" fill="#fff" stroke="#1c1c1c" stroke-width="1.3"/>
<rect x="159.6" y="457.6" width="6.0" height="5.2" rx="0" fill="#b4b4b4" stroke="#1c1c1c" stroke-width="1.0"/>
<rect x="165.6" y="457.6" width="6.0" height="5.2" rx="0" fill="#a4a4a4" stroke="#1c1c1c" stroke-width="1.0"/>
<path d="M159.6 462.8l-4.6 0Q156.6 460.0 159.6 457.6Z" fill="#8a8a8a" stroke="#1c1c1c" stroke-width="0.9" stroke-linejoin="round" />
<rect x="159.6" y="534.8" width="6.0" height="5.2" rx="0" fill="#b4b4b4" stroke="#1c1c1c" stroke-width="1.0"/>
<rect x="165.6" y="534.8" width="6.0" height="5.2" rx="0" fill="#a4a4a4" stroke="#1c1c1c" stroke-width="1.0"/>
<path d="M159.6 534.8l-4.6 0Q156.6 537.5999999999999 159.6 540.0Z" fill="#8a8a8a" stroke="#1c1c1c" stroke-width="0.9" stroke-linejoin="round" />
<rect x="148.0" y="462.8" width="10.0" height="72.0" rx="0" fill="url(#gl)" stroke="#1c1c1c" stroke-width="1.0"/>
<rect x="158.0" y="462.8" width="20.4" height="72.0" rx="0" fill="#9a9a9a" stroke="#1c1c1c" stroke-width="1.0"/>
<rect x="212.4" y="448.4" width="16.0" height="9.0" rx="0" fill="#a4a4a4" stroke="#1c1c1c" stroke-width="1.0"/>
<path d="M212.4 452.5L228.0 452.5" stroke="#1c1c1c" stroke-width="0.8" fill="none" />
<rect x="212.4" y="540.2" width="16.0" height="9.0" rx="0" fill="#a4a4a4" stroke="#1c1c1c" stroke-width="1.0"/>
<path d="M212.4 544.5L228.0 544.5" stroke="#1c1c1c" stroke-width="0.8" fill="none" />
<rect x="178.4" y="457.4" width="47.6" height="83.2" rx="0" fill="#9a9a9a" stroke="#1c1c1c" stroke-width="1.1"/>
<rect x="178.4" y="457.4" width="47.6" height="4.4" rx="0" fill="#fff" stroke="#1c1c1c" stroke-width="1.0"/>
<rect x="178.4" y="536.0" width="47.6" height="4.6" rx="0" fill="#6a6a6a" stroke="#1c1c1c" stroke-width="1.0"/>
<clipPath id="cp104"><rect x="179.0" y="461.8" width="46.599999999999994" height="74.19999999999999"/></clipPath>
<g clip-path="url(#cp104)">
<circle cx="228.0" cy="498.8" r="37.6" fill="#e9e9e9" stroke="#1c1c1c" stroke-width="1.1"/>
<circle cx="228.0" cy="498.8" r="34.4" fill="#c2c2c2" stroke="#1c1c1c" stroke-width="1.0"/>
<circle cx="228.0" cy="498.8" r="32.2" fill="#9a9a9a" stroke="#1c1c1c" stroke-width="1.0"/>
</g>
<path d="M300 452L309 463L333.5 484Q340.6 490.4 340.6 498.8Q340.6 507.2 333.5 513.6L309 534.6L300 545.6Z" fill="#9a9a9a" stroke="#1c1c1c" stroke-width="1.3" stroke-linejoin="round" />
<circle cx="315.4" cy="498.8" r="8.5" fill="#fff" stroke="#1c1c1c" stroke-width="1.1"/>
<path d="M223.0 461.8L223.0 456.8Q223.2 449.8 232.0 444.8L269.0 426.0A29.6 29.6 0 0 1 310.3 460.6C308.1 472.6 303.2 484.8 303.2 498.8C303.2 512.8 308.1 525.0 310.3 537.0A29.6 29.6 0 0 1 269.0 571.6L232.0 552.8Q223.2 547.8 223.0 540.8L223.0 535.8Z" fill="#9a9a9a" stroke="#1c1c1c" stroke-width="1.3" stroke-linejoin="round" />
<circle cx="282.4" cy="452.4" r="9.7" fill="#fff" stroke="#1c1c1c" stroke-width="1.4"/>
<clipPath id="rh282_452"><circle cx="282.4" cy="452.40000000000003" r="9.1"/></clipPath>
<g clip-path="url(#rh282_452)">
<rect x="272.7" y="456.8" width="19.4" height="9.7" fill="#d2d2d2"/>
<rect x="272.7" y="450.8" width="15.1" height="3.8" fill="#e2e2e2"/>
<rect x="289.0" y="451.0" width="1.8" height="3.4" fill="#e2e2e2"/>
<path d="M272.7 450.3H284.0V448.9H290.9" fill="none" stroke="#1c1c1c" stroke-width="1.3"/>
<path d="M288.2 449.8V454.8" fill="none" stroke="#1c1c1c" stroke-width="1.0"/>
<rect x="272.7" y="454.6" width="15.9" height="2.4" fill="#303030"/>
<path d="M272.7 457.8H292.09999999999997" fill="none" stroke="#8a8a8a" stroke-width="0.9"/>
</g>
<circle cx="282.4" cy="545.2" r="9.7" fill="#fff" stroke="#1c1c1c" stroke-width="1.4"/>
<clipPath id="rh282_545"><circle cx="282.4" cy="545.2" r="9.1"/></clipPath>
<g clip-path="url(#rh282_545)">
<rect x="272.7" y="549.6" width="19.4" height="9.7" fill="#d2d2d2"/>
<rect x="272.7" y="543.6" width="15.1" height="3.8" fill="#e2e2e2"/>
<rect x="289.0" y="543.8" width="1.8" height="3.4" fill="#e2e2e2"/>
<path d="M272.7 543.1H284.0V541.7H290.9" fill="none" stroke="#1c1c1c" stroke-width="1.3"/>
<path d="M288.2 542.6V547.6" fill="none" stroke="#1c1c1c" stroke-width="1.0"/>
<rect x="272.7" y="547.4" width="15.9" height="2.4" fill="#303030"/>
<path d="M272.7 550.6H292.09999999999997" fill="none" stroke="#8a8a8a" stroke-width="0.9"/>
</g>
<clipPath id="kc228"><rect x="228" y="471.2" width="60" height="55.6"/></clipPath>
<g clip-path="url(#kc228)">
<circle cx="235.4" cy="498.8" r="28.4" fill="#9a9a9a" stroke="#1c1c1c" stroke-width="1.2"/>
<circle cx="233.4" cy="498.8" r="28.2" fill="#9a9a9a" stroke="#1c1c1c" stroke-width="0.9"/>
</g>
<path d="M232.0 471.5L245.0 471.5" stroke="#1c1c1c" stroke-width="1.1" fill="none" />
<path d="M232.0 526.5L245.0 526.5" stroke="#1c1c1c" stroke-width="1.1" fill="none" />
<circle cx="228.0" cy="498.8" r="28.0" fill="#9c9c9c" stroke="#1c1c1c" stroke-width="1.3"/>
</g>
<path d="M49.4 425.5L126.0 425.5" stroke="#1c1c1c" stroke-width="0.9" fill="none" />
<path d="M49.4 572.5L129.0 572.5" stroke="#1c1c1c" stroke-width="0.9" fill="none" />
<path d="M57.5 425.4L57.5 572.4" stroke="#1c1c1c" stroke-width="0.9" fill="none" />
<path d="M57.5 425.4L58.9 431.9L56.1 431.9Z" fill="#1c1c1c"/>
<path d="M57.5 572.4L56.1 565.9L58.9 565.9Z" fill="#1c1c1c"/>
<text transform="translate(55.0 505.6) rotate(-90) scale(1.0 1.0)" font-size="15.4" text-anchor="middle" fill="#1c1c1c" stroke="#1c1c1c" stroke-width=".25">36.6</text>
<path d="M75.0 463.5L148.0 463.5" stroke="#1c1c1c" stroke-width="0.9" fill="none" />
<path d="M75.0 534.5L148.0 534.5" stroke="#1c1c1c" stroke-width="0.9" fill="none" />
<path d="M83.5 463.0L83.5 534.4" stroke="#1c1c1c" stroke-width="0.9" fill="none" />
<path d="M83.5 463.0L84.9 469.5L82.1 469.5Z" fill="#1c1c1c"/>
<path d="M83.5 534.4L82.1 527.9L84.9 527.9Z" fill="#1c1c1c"/>
<text transform="translate(80.4 505.0) rotate(-90) scale(1.0 1.0)" font-size="15.4" text-anchor="middle" fill="#1c1c1c" stroke="#1c1c1c" stroke-width=".25">17.5</text>
<path d="M284.0 448.5L382.0 448.5" stroke="#1c1c1c" stroke-width="0.9" fill="none" />
<path d="M284.0 549.5L382.0 549.5" stroke="#1c1c1c" stroke-width="0.9" fill="none" />
<path d="M374.5 448.0L374.5 549.4" stroke="#1c1c1c" stroke-width="0.9" fill="none" />
<path d="M374.5 448.0L375.9 454.5L373.1 454.5Z" fill="#1c1c1c"/>
<path d="M374.5 549.4L373.1 542.9L375.9 542.9Z" fill="#1c1c1c"/>
<text transform="translate(371.0 499.0) rotate(-90) scale(1.0 1.0)" font-size="15.4" text-anchor="middle" fill="#1c1c1c" stroke="#1c1c1c" stroke-width=".25">24</text>
<circle cx="351.4" cy="494" r="5.8" fill="none" stroke="#9d9d9d" stroke-width="1.3"/>
<text x="351.4" y="497.4" font-size="9.5" font-weight="bold" text-anchor="middle" fill="#9d9d9d">R</text>
<path d="M286.0 422.5L420.0 422.5" stroke="#1c1c1c" stroke-width="0.9" fill="none" />
<path d="M286.0 575.5L420.0 575.5" stroke="#1c1c1c" stroke-width="0.9" fill="none" />
<path d="M412.5 422.4L412.5 575.0" stroke="#1c1c1c" stroke-width="0.9" fill="none" />
<path d="M412.5 422.4L413.9 428.9L411.1 428.9Z" fill="#1c1c1c"/>
<path d="M412.5 575.0L411.1 568.5L413.9 568.5Z" fill="#1c1c1c"/>
<text transform="translate(409.0 505.6) rotate(-90) scale(1.0 1.0)" font-size="15.4" text-anchor="middle" fill="#1c1c1c" stroke="#1c1c1c" stroke-width=".25">38</text>
<path d="M212.5 549.0L212.5 608.0" stroke="#1c1c1c" stroke-width="0.9" fill="none" />
<path d="M340.5 500.0L340.5 633.0" stroke="#1c1c1c" stroke-width="0.9" fill="none" />
<path d="M212.4 599.5L340.4 599.5" stroke="#1c1c1c" stroke-width="0.9" fill="none" />
<path d="M212.4 599.5L218.9 598.1L218.9 600.9Z" fill="#1c1c1c"/>
<path d="M340.4 599.5L333.9 600.9L333.9 598.1Z" fill="#1c1c1c"/>
<text transform="translate(281.0 594.4) scale(1.1 1)" font-size="13.7" text-anchor="middle" fill="#1c1c1c" stroke="#1c1c1c" stroke-width=".15" font-weight="normal" letter-spacing="0">31.7</text>
<path d="M104.5 572.4L104.5 633.0" stroke="#1c1c1c" stroke-width="0.9" fill="none" />
<path d="M104.0 625.5L340.4 625.5" stroke="#1c1c1c" stroke-width="0.9" fill="none" />
<path d="M104.0 625.5L110.5 624.1L110.5 626.9Z" fill="#1c1c1c"/>
<path d="M340.4 625.5L333.9 626.9L333.9 624.1Z" fill="#1c1c1c"/>
<text transform="translate(213.6 621.6) scale(1.1 1)" font-size="13.7" text-anchor="middle" fill="#1c1c1c" stroke="#1c1c1c" stroke-width=".15" font-weight="normal" letter-spacing="0">( 57.5 )</text>
<g id="g2bot">
<path d="M223.0 689.0L223.0 684.0Q223.2 677.0 232.0 672.0L269.0 653.2A29.6 29.6 0 0 1 310.3 687.8C308.1 699.8 303.2 712.0 303.2 726.0C303.2 740.0 308.1 752.2 310.3 764.2A29.6 29.6 0 0 1 269.0 798.8L232.0 780.0Q223.2 775.0 223.0 768.0L223.0 763.0Z" fill="#9a9a9a" stroke="#1c1c1c" stroke-width="1.3" stroke-linejoin="round" />
<circle cx="282.4" cy="679.6" r="9.6" fill="#fff" stroke="#1c1c1c" stroke-width="1.1"/>
<circle cx="282.4" cy="772.4" r="9.6" fill="#fff" stroke="#1c1c1c" stroke-width="1.1"/>
<path d="M284 776V778Q284 779.6 286 779.6H296Q298 779.6 298 778V776" fill="#8a8a8a" stroke="#1c1c1c" stroke-width="0.8" stroke-linejoin="round" />
<path d="M103.6 677.4A25.4 25.4 0 0 1 154.4 677.4V684.4H160V767H154.4V774.4A25.4 25.6 0 0 1 103.6 774.4Z" fill="#9a9a9a" stroke="#1c1c1c" stroke-width="1.3" stroke-linejoin="round" />
<circle cx="129.0" cy="677.4" r="7.0" fill="#fff" stroke="#1c1c1c" stroke-width="1.3"/>
<circle cx="129.0" cy="774.4" r="7.0" fill="#fff" stroke="#1c1c1c" stroke-width="1.3"/>
<rect x="160.0" y="684.4" width="10.0" height="82.6" rx="0" fill="#978c9b" stroke="#1c1c1c" stroke-width="1.1"/>
<rect x="170.0" y="689.0" width="42.4" height="75.0" rx="0" fill="#9a9a9a" stroke="#1c1c1c" stroke-width="1.1"/>
<rect x="178.4" y="684.4" width="34.0" height="4.6" rx="0" fill="#fff" stroke="#1c1c1c" stroke-width="1.0"/>
<rect x="178.4" y="689.0" width="34.0" height="9.0" rx="0" fill="#9a9a9a" stroke="#1c1c1c" stroke-width="1.0"/>
<rect x="178.4" y="753.6" width="34.0" height="10.0" rx="0" fill="#9a9a9a" stroke="#1c1c1c" stroke-width="1.0"/>
<rect x="178.4" y="763.6" width="34.0" height="3.4" rx="0" fill="#707070" stroke="#1c1c1c" stroke-width="1.0"/>
<path d="M212.4 680H303V685L335 712Q340.6 718.6 340.6 726Q340.6 733.4 335 740L303 767V771.6H212.4Z" fill="#9a9a9a" stroke="#1c1c1c" stroke-width="1.2" stroke-linejoin="round" />
<rect x="212.4" y="675.6" width="90.6" height="4.4" rx="0" fill="#fff" stroke="#1c1c1c" stroke-width="1.0"/>
<rect x="212.4" y="771.6" width="90.6" height="4.4" rx="0" fill="#707070" stroke="#1c1c1c" stroke-width="1.0"/>
<circle cx="238.6" cy="726.0" r="8.6" fill="#9a9a9a" stroke="#1c1c1c" stroke-width="1.1"/>
<circle cx="315.4" cy="726.0" r="8.6" fill="#fff" stroke="#1c1c1c" stroke-width="1.1"/>
<path d="M102.0 726.5L213.0 726.5" stroke="#1c1c1c" stroke-width="0.9" fill="none" />
<path d="M219.0 726.5L339.0 726.5" stroke="#1c1c1c" stroke-width="0.9" fill="none" />
<path d="M129.5 660.0L129.5 694.4" stroke="#1c1c1c" stroke-width="0.9" fill="none" />
<path d="M129.5 757.0L129.5 858.0" stroke="#1c1c1c" stroke-width="0.9" fill="none" />
<path d="M76.4 677.5L145.6 677.5" stroke="#1c1c1c" stroke-width="0.9" fill="none" />
<path d="M76.4 774.5L145.6 774.5" stroke="#1c1c1c" stroke-width="0.9" fill="none" />
<path d="M238.5 707.0L238.5 858.0" stroke="#1c1c1c" stroke-width="0.9" fill="none" />
<path d="M315.5 707.0L315.5 832.0" stroke="#1c1c1c" stroke-width="0.9" fill="none" />
</g>
<text transform="translate(52.0 647.0) scale(1.12 1)" font-size="13.7" text-anchor="start" fill="#1c1c1c" stroke="#1c1c1c" stroke-width=".15" font-weight="normal" letter-spacing="0">2-</text>
<ellipse cx="76.4" cy="641.2" rx="5.8" ry="5.4" fill="none" stroke="#1c1c1c" stroke-width="1.2"/>
<path d="M72.7 649.0L79.4 633.5" stroke="#1c1c1c" stroke-width="1.1" fill="none"/>
<text transform="translate(86.0 647.0) scale(1.12 1)" font-size="12.8" text-anchor="start" fill="#1c1c1c" stroke="#1c1c1c" stroke-width=".15" font-weight="normal" letter-spacing="0">3.4</text>
<path d="M52.0 650.5L113.0 650.5" stroke="#1c1c1c" stroke-width="0.9" fill="none" />
<path d="M113.0 650.4L133.0 684.4" stroke="#1c1c1c" stroke-width="0.9" fill="none" />
<path d="M124.8 670.4L120.0 665.1L122.5 663.6Z" fill="#1c1c1c"/>
<text transform="translate(342.4 647.0) scale(1.12 1)" font-size="13.7" text-anchor="start" fill="#1c1c1c" stroke="#1c1c1c" stroke-width=".15" font-weight="normal" letter-spacing="0">2-</text>
<ellipse cx="366.8" cy="641.2" rx="5.8" ry="5.4" fill="none" stroke="#1c1c1c" stroke-width="1.2"/>
<path d="M363.1 649.0L369.8 633.5" stroke="#1c1c1c" stroke-width="1.1" fill="none"/>
<text transform="translate(376.4 647.0) scale(1.12 1)" font-size="12.8" text-anchor="start" fill="#1c1c1c" stroke="#1c1c1c" stroke-width=".15" font-weight="normal" letter-spacing="0">4.3</text>
<path d="M335.6 650.5L397.0 650.5" stroke="#1c1c1c" stroke-width="0.9" fill="none" />
<path d="M335.6 650.6L313.8 734.0" stroke="#1c1c1c" stroke-width="0.9" fill="none" />
<path d="M317.8 718.6L318.1 711.4L321.0 712.2Z" fill="#1c1c1c"/>
<path d="M84.5 677.4L84.5 774.4" stroke="#1c1c1c" stroke-width="0.9" fill="none" />
<path d="M84.5 677.4L85.9 683.9L83.1 683.9Z" fill="#1c1c1c"/>
<path d="M84.5 774.4L83.1 767.9L85.9 767.9Z" fill="#1c1c1c"/>
<text transform="translate(81.0 726.4) rotate(-90) scale(1.0 1.0)" font-size="15.4" text-anchor="middle" fill="#1c1c1c" stroke="#1c1c1c" stroke-width=".25">24</text>
<path d="M170.5 767.0L170.5 832.0" stroke="#1c1c1c" stroke-width="0.9" fill="none" />
<path d="M129.0 824.5L170.0 824.5" stroke="#1c1c1c" stroke-width="0.9" fill="none" />
<path d="M129.0 824.5L135.5 823.1L135.5 825.9Z" fill="#1c1c1c"/>
<path d="M170.0 824.5L163.5 825.9L163.5 823.1Z" fill="#1c1c1c"/>
<text transform="translate(150.0 820.0) scale(1.1 1)" font-size="13.7" text-anchor="middle" fill="#1c1c1c" stroke="#1c1c1c" stroke-width=".15" font-weight="normal" letter-spacing="0">10.2</text>
<path d="M212.5 776.0L212.5 832.0" stroke="#1c1c1c" stroke-width="0.9" fill="none" />
<path d="M212.4 824.5L238.6 824.5" stroke="#1c1c1c" stroke-width="0.9" fill="none" />
<path d="M212.4 824.5L218.9 823.1L218.9 825.9Z" fill="#1c1c1c"/>
<path d="M238.6 824.5L232.1 825.9L232.1 823.1Z" fill="#1c1c1c"/>
<text transform="translate(226.0 820.0) scale(1.1 1)" font-size="13.7" text-anchor="middle" fill="#1c1c1c" stroke="#1c1c1c" stroke-width=".15" font-weight="normal" letter-spacing="0">6.5</text>
<path d="M238.6 824.5L315.4 824.5" stroke="#1c1c1c" stroke-width="0.9" fill="none" />
<path d="M238.6 824.5L245.1 823.1L245.1 825.9Z" fill="#1c1c1c"/>
<path d="M315.4 824.5L308.9 825.9L308.9 823.1Z" fill="#1c1c1c"/>
<text transform="translate(279.6 820.0) scale(1.1 1)" font-size="13.7" text-anchor="middle" fill="#1c1c1c" stroke="#1c1c1c" stroke-width=".15" font-weight="normal" letter-spacing="0">19</text>
<path d="M129.0 850.5L238.6 850.5" stroke="#1c1c1c" stroke-width="0.9" fill="none" />
<path d="M129.0 850.5L135.5 849.1L135.5 851.9Z" fill="#1c1c1c"/>
<path d="M238.6 850.5L232.1 851.9L232.1 849.1Z" fill="#1c1c1c"/>
<text transform="translate(187.0 846.4) scale(1.1 1)" font-size="13.7" text-anchor="middle" fill="#1c1c1c" stroke="#1c1c1c" stroke-width=".15" font-weight="normal" letter-spacing="0">( 27 )</text>
<text x="320" y="853" font-size="22.5" fill="#111" textLength="91" lengthAdjust="spacing">[A81-2]</text>
<g opacity="0.14" fill="#000">
<g transform="translate(0 0) matrix(1 0 -0.5 1 0 222.6)">
<path d="M432.7 -24.6H470.7V-18.8H462V0H451.6V-18.8H432.7Z"/>
<path fill-rule="evenodd" d="M486 0V-18.6Q486 -24.6 493 -24.6H521.7Q528.7 -24.6 528.7 -18.6V0H518.2V-7.6H496.5V0Z M496.5 -12.4V-17.3Q496.5 -18.8 498.5 -18.8H516.2Q518.2 -18.8 518.2 -17.3V-12.4Z"/>
<path d="M537.6 0V-24.6H548L557.2 -9V-24.6H567.7V0H557.2L548 -15.6V0Z"/>
<path d="M585.5 -9H596V-5.8H608.2V-24.6H618.7V-6Q618.7 0 611.7 0H592.5Q585.5 0 585.5 -6Z"/>
<path fill-rule="evenodd" d="M633 0V-18.6Q633 -24.6 640 -24.6H659.2Q666.2 -24.6 666.2 -18.6V0H655.7V-7.6H643.5V0Z M643.5 -12.4V-17.3Q643.5 -18.8 645.5 -18.8H653.7Q655.7 -18.8 655.7 -17.3V-12.4Z"/>
</g>
<g transform="translate(0 0)">
<rect x="443.7" y="237" width="73.5" height="2.7"/>
<rect x="607.7" y="237" width="73.5" height="2.7"/>
<text x="523" y="245" font-size="15" font-weight="bold" letter-spacing="5.7" style="font-family:'Liberation Sans','Noto Sans CJK SC',sans-serif">天甲工业</text>
</g></g>
<g opacity="0.14" fill="#000">
<g transform="translate(-338.3 305) matrix(1 0 -0.5 1 0 222.6)">
<path d="M432.7 -24.6H470.7V-18.8H462V0H451.6V-18.8H432.7Z"/>
<path fill-rule="evenodd" d="M486 0V-18.6Q486 -24.6 493 -24.6H521.7Q528.7 -24.6 528.7 -18.6V0H518.2V-7.6H496.5V0Z M496.5 -12.4V-17.3Q496.5 -18.8 498.5 -18.8H516.2Q518.2 -18.8 518.2 -17.3V-12.4Z"/>
<path d="M537.6 0V-24.6H548L557.2 -9V-24.6H567.7V0H557.2L548 -15.6V0Z"/>
<path d="M585.5 -9H596V-5.8H608.2V-24.6H618.7V-6Q618.7 0 611.7 0H592.5Q585.5 0 585.5 -6Z"/>
<path fill-rule="evenodd" d="M633 0V-18.6Q633 -24.6 640 -24.6H659.2Q666.2 -24.6 666.2 -18.6V0H655.7V-7.6H643.5V0Z M643.5 -12.4V-17.3Q643.5 -18.8 645.5 -18.8H653.7Q655.7 -18.8 655.7 -17.3V-12.4Z"/>
</g>
<g transform="translate(-338.3 305)">
<rect x="443.7" y="237" width="73.5" height="2.7"/>
<rect x="607.7" y="237" width="73.5" height="2.7"/>
<text x="523" y="245" font-size="15" font-weight="bold" letter-spacing="5.7" style="font-family:'Liberation Sans','Noto Sans CJK SC',sans-serif">天甲工业</text>
</g></g>
</svg>
</body></html>
